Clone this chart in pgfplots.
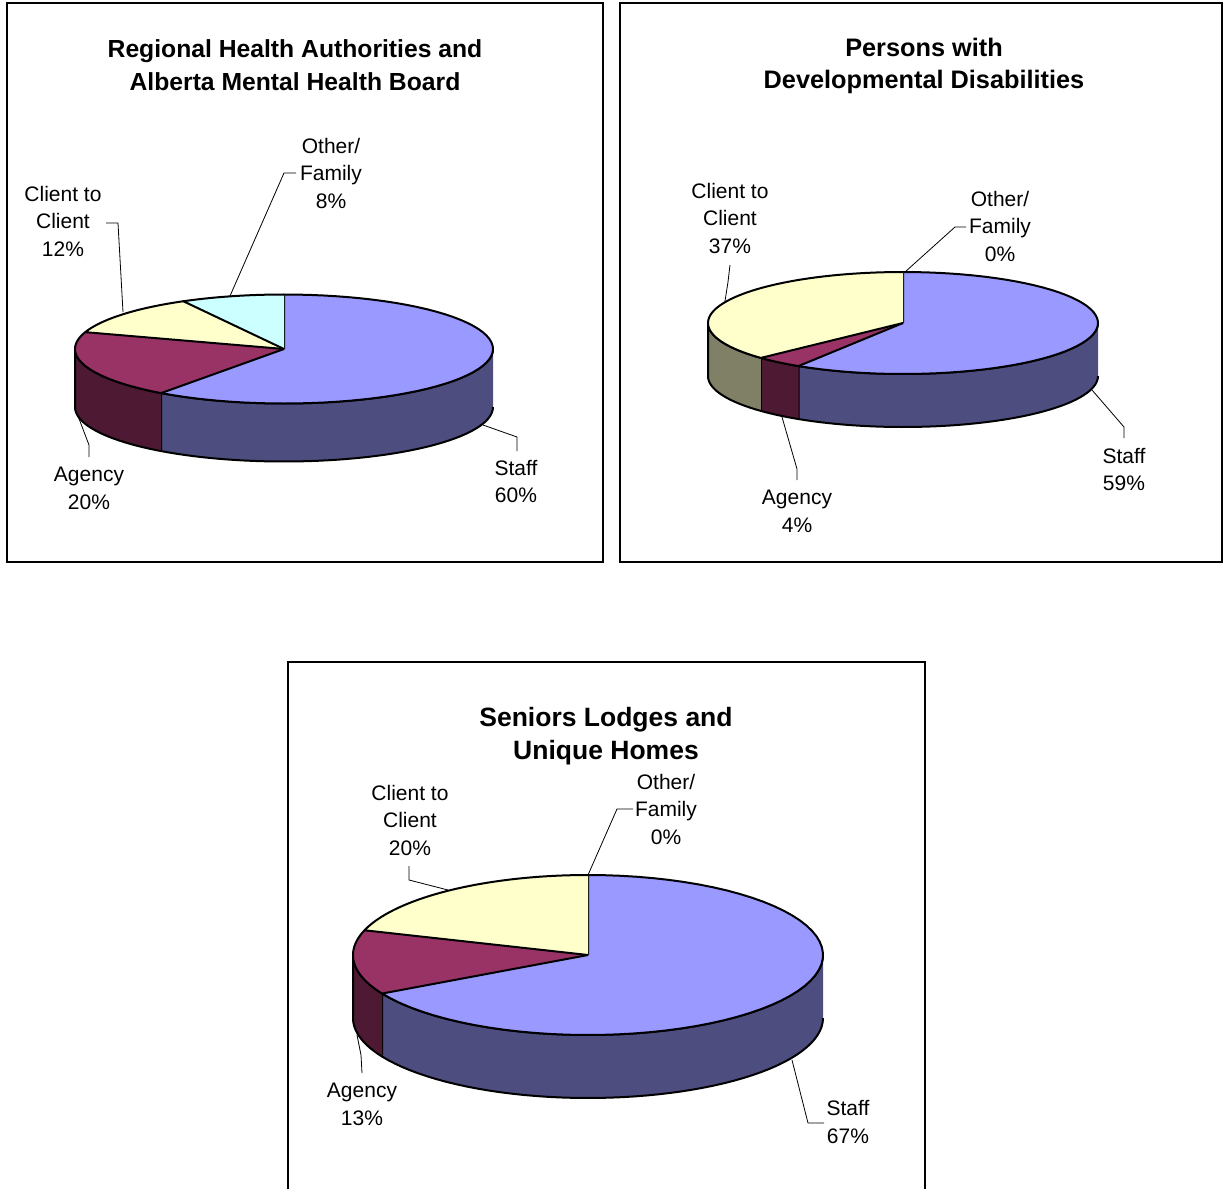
\documentclass[border=0pt]{standalone}
\usepackage{pgfplots}
\pgfplotsset{compat=1.18}
\usepackage{pgfplotstable}
\usepackage{fontspec}
\setmainfont{Liberation Sans}

\definecolor{StaffT}{HTML}{9999FF}
\definecolor{StaffS}{HTML}{4D4D80}
\definecolor{AgencyT}{HTML}{993366}
\definecolor{AgencyS}{HTML}{4D1933}
\definecolor{ClientT}{HTML}{FFFFCC}
\definecolor{ClientS}{HTML}{808066}
\definecolor{OtherT}{HTML}{CCFFFF}
\definecolor{OtherS}{HTML}{668080}

% Percent shares per chart
\pgfplotstableread{
Category Percent
Staff 60
Agency 20
Client 12
Other 8
}\tableRHA
\pgfplotstableread{
Category Percent
Staff 59
Agency 4
Client 37
Other 0
}\tablePDD
\pgfplotstableread{
Category Percent
Staff 67
Agency 13
Client 20
Other 0
}\tableSL

% side wall of a slice: #1 start angle #2 end angle #3 colour #4 cx #5 cy #6 R #7 r #8 depth
\newcommand\sideface[8]{%
  \pgfmathsetmacro\hi{min(#1,0)}%
  \pgfmathsetmacro\lo{max(#2,-180)}%
  \pgfmathtruncatemacro\vis{\hi-\lo>0.01 ? 1 : 0}%
  \ifnum\vis=1
    \edef\doplot{\noexpand\addplot[fill=#3, draw=black, line width=1pt, line join=round,
      variable=\noexpand\s, samples at={0,1,...,50,100,101,...,150}]
      ({#4+#6*cos(\noexpand\s<75 ? \hi+\noexpand\s/50*(\lo-\hi) : \lo+(\noexpand\s-100)/50*(\hi-\lo))},
       {#5-#7*sin(\noexpand\s<75 ? \hi+\noexpand\s/50*(\lo-\hi) : \lo+(\noexpand\s-100)/50*(\hi-\lo)) + (\noexpand\s<75 ? 0 : #8)});}%
    \doplot
  \fi
}
% top wedge of a slice
\newcommand\topface[7]{%
  \pgfmathtruncatemacro\vis{(#1)-(#2)>0.01 ? 1 : 0}%
  \ifnum\vis=1
    \edef\doplot{\noexpand\addplot[fill=#3, draw=black, line width=1pt, line join=round,
      variable=\noexpand\s, samples at={-1,0,1,...,60}]
      ({\noexpand\s<-0.5 ? #4 : #4+#6*cos(#1+\noexpand\s/60*(#2-#1))},
       {\noexpand\s<-0.5 ? #5 : #5-#7*sin(#1+\noexpand\s/60*(#2-#1))});}%
    \doplot
  \fi
}
% whole 3D pie: #1 table #2 cx #3 cy #4 R #5 r #6 depth
\newcommand\drawpie[6]{%
  \pgfplotstablegetelem{0}{Percent}\of{#1}\edef\pA{\pgfplotsretval}%
  \pgfplotstablegetelem{1}{Percent}\of{#1}\edef\pB{\pgfplotsretval}%
  \pgfplotstablegetelem{2}{Percent}\of{#1}\edef\pC{\pgfplotsretval}%
  \pgfplotstablegetelem{3}{Percent}\of{#1}\edef\pD{\pgfplotsretval}%
  \pgfmathsetmacro\tA{90}%
  \pgfmathsetmacro\tB{\tA-3.6*\pA}%
  \pgfmathsetmacro\tC{\tB-3.6*\pB}%
  \pgfmathsetmacro\tD{\tC-3.6*\pC}%
  \pgfmathsetmacro\tE{\tD-3.6*\pD}%
  \sideface{\tA}{\tB}{StaffS}{#2}{#3}{#4}{#5}{#6}%
  \sideface{\tB}{\tC}{AgencyS}{#2}{#3}{#4}{#5}{#6}%
  \sideface{\tC}{\tD}{ClientS}{#2}{#3}{#4}{#5}{#6}%
  \sideface{\tD}{\tE}{OtherS}{#2}{#3}{#4}{#5}{#6}%
  \topface{\tA}{\tB}{StaffT}{#2}{#3}{#4}{#5}%
  \topface{\tB}{\tC}{AgencyT}{#2}{#3}{#4}{#5}%
  \topface{\tC}{\tD}{ClientT}{#2}{#3}{#4}{#5}%
  \topface{\tD}{\tE}{OtherT}{#2}{#3}{#4}{#5}%
}

\begin{document}
\begin{tikzpicture}[
  lbl/.style={align=center, inner sep=0pt, font=\fontsize{10.5}{13.75}\selectfont},
  ttl/.style={align=center, inner sep=0pt, font=\fontsize{#1}{16.4}\selectfont\bfseries},
  lead/.style={draw=black, line width=0.4pt}]
\begin{axis}[x=0.5pt, y=0.5pt, y dir=reverse,
  xmin=0, xmax=1223, ymin=0, ymax=1189, enlargelimits=false,
  hide axis, clip=false, scale only axis]
\path (0,0) rectangle (1223,1189);
% panel frames
\draw[line width=0.6pt] (7,3) rectangle (603,562);
\draw[line width=0.6pt] (620,3) rectangle (1222,562);
\draw[line width=0.6pt] (288,1189) -- (288,662) -- (925,662) -- (925,1189);

% pies
\drawpie{\tableRHA}{284}{349}{209}{54.5}{58}
\drawpie{\tablePDD}{903}{323}{195}{51}{53}
\drawpie{\tableSL}{588}{955}{235}{80}{63}

% titles
\node[ttl=12.35] at (295,65) {Regional Health Authorities and\\Alberta Mental Health Board};
\node[ttl=12.65] at (924,66) {Persons with\\Developmental Disabilities};
\node[ttl=13.25] at (606,736) {Seniors Lodges and\\Unique Homes};

% chart 1 labels
\node[lbl] at (331,173) {Other/\\Family\\8\%};
\draw[lead] (296,173) -- (284,173) -- (230,296);
\node[lbl] at (63,221) {Client to\\Client\\12\%};
\draw[lead] (106,223) -- (118,223) -- (123,312);
\node[lbl] at (89,488.5) {Agency\\20\%};
\draw[lead] (89,457) -- (89,445) -- (78,416);
\node[lbl] at (516,481.5) {Staff\\60\%};
\draw[lead] (517,451) -- (517,437) -- (483,425);

% chart 2 labels
\node[lbl] at (730,218) {Client to\\Client\\37\%};
\draw[lead] (730,265) -- (728,282) -- (725,301);
\node[lbl] at (1000,226) {Other/\\Family\\0\%};
\draw[lead] (966,227) -- (955,227) -- (905,272);
\node[lbl] at (797,511.5) {Agency\\4\%};
\draw[lead] (797,480) -- (797,469) -- (782,417);
\node[lbl] at (1124,469.5) {Staff\\59\%};
\draw[lead] (1124,438) -- (1124,427) -- (1092,390);

% chart 3 labels
\node[lbl] at (410,820) {Client to\\Client\\20\%};
\draw[lead] (409,866) -- (409,880) -- (448,890);
\node[lbl] at (666,809) {Other/\\Family\\0\%};
\draw[lead] (633,809) -- (617,809) -- (588,875);
\node[lbl] at (362,1104.5) {Agency\\13\%};
\draw[lead] (362,1073) -- (361,1055) -- (357,1035);
\node[lbl] at (848,1122) {Staff\\67\%};
\draw[lead] (824,1123) -- (808,1123) -- (792,1060);
\end{axis}
\end{tikzpicture}
\end{document}
